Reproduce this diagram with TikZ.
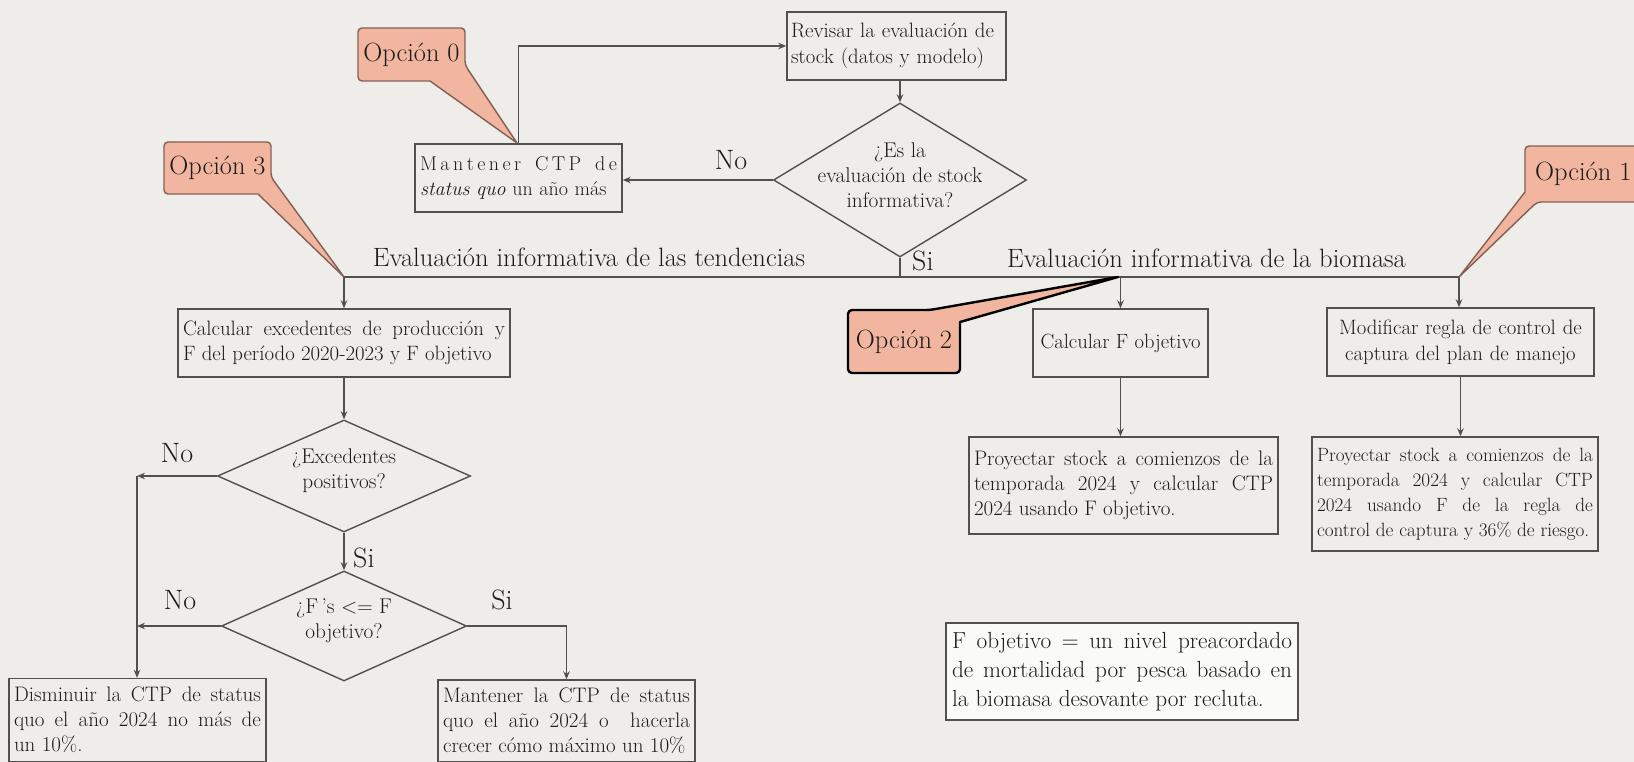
\documentclass[tikz,border=0pt]{standalone}
\usepackage{fontspec}
\usetikzlibrary{shapes.geometric,arrows.meta}
\definecolor{bg}{RGB}{239,237,233}
\definecolor{ln}{RGB}{80,80,80}
\definecolor{tx}{RGB}{28,28,28}
\definecolor{callfill}{RGB}{242,182,160}
\definecolor{calldraw}{RGB}{130,95,85}
\definecolor{notefill}{RGB}{250,250,248}
\begin{document}
\begin{tikzpicture}[x=1pt,y=-1pt,
  box/.style={draw=ln, line width=1.4pt, inner xsep=5pt, inner ysep=0pt, text=tx,
    font=\fontsize{21}{25}\selectfont},
  dia/.style={diamond, draw=ln, line width=1.4pt, inner sep=0pt, text=tx,
    font=\fontsize{21.3}{25}\selectfont},
  arr/.style={draw=ln, line width=1.4pt, -{Stealth[length=8pt,width=6.5pt]}},
  conn/.style={draw=ln, line width=1.4pt},
  lab/.style={font=\fontsize{26.5}{30}\selectfont, text=tx, inner sep=0pt, anchor=base},
  yn/.style={font=\fontsize{28}{30}\selectfont, text=tx, inner sep=0pt, anchor=base},
  opt/.style={fill=callfill, draw=calldraw, line width=1.4pt, line join=round},
  optlab/.style={font=\fontsize{26.4}{30}\selectfont, text=tx, inner sep=0pt}]
\useasboundingbox (0,0) rectangle (1634,762);
\fill[bg] (0,0) rectangle (1634,762);
\clip (0,0) rectangle (1634,762);

% ---- nodes ----
\node[box, minimum width=219pt, minimum height=68pt, text width=211pt, inner xsep=4pt, align=left,
  font=\fontsize{20.8}{26}\selectfont]
  (rev) at (896.5,46) {Revisar la evaluación de\\stock (datos y modelo)};
\node[dia, minimum width=253pt, minimum height=154pt] (d1) at (900,180)
  {\makebox[0pt]{\smash{\parbox[c]{240pt}{\centering ¿Es la\\evaluación de stock\\informativa?}}}};
\node[box, minimum width=207pt, minimum height=68pt, text width=197pt, align=left,
  font=\fontsize{20}{25}\selectfont]
  (m0) at (518.5,178) {\makebox[\linewidth][s]{M\hfil a\hfil n\hfil t\hfil e\hfil n\hfil e\hfil r\hfil\hskip7pt\hfil C\hfil T\hfil P\hfil\hskip7pt\hfil d\hfil e}\\{\itshape status quo} un año más};

\node[box, minimum width=332pt, minimum height=68pt, text width=322pt, align=justify,
  font=\fontsize{20.8}{25}\selectfont]
  (c1) at (344,343) {Calcular excedentes de producción y\linebreak F del período 2020-2023 y F objetivo};
\node[dia, minimum width=253pt, minimum height=112pt] (d2) at (344,476)
  {\makebox[0pt]{\smash{\parbox[c]{200pt}{\centering ¿Excedentes\\positivos?}}}};
\node[dia, minimum width=245pt, minimum height=110pt] (d3) at (344,626)
  {\makebox[0pt]{\smash{\parbox[c]{200pt}{\centering ¿F\,’s <= F\\objetivo?}}}};
\node[box, minimum width=257pt, minimum height=83pt, text width=247pt, align=justify]
  (dism) at (137.5,720) {Disminuir la CTP de status\linebreak quo el año 2024 no más de\linebreak un 10\%.};
\node[box, minimum width=257pt, minimum height=82pt, text width=247pt, align=justify]
  (mant1) at (566.5,721) {Mantener la CTP de status\linebreak quo el año 2024 o \ hacerla\linebreak crecer cómo máximo un 10\%};

\node[box, minimum width=175pt, minimum height=68pt, align=center,
  font=\fontsize{20.6}{25}\selectfont]
  (calcF) at (1120.5,343) {Calcular F objetivo};
\node[box, minimum width=309pt, minimum height=97pt, text width=299pt, align=justify]
  (proy1) at (1123.5,485.5) {Proyectar stock a comienzos de la\linebreak temporada 2024 y calcular CTP\linebreak 2024 usando F objetivo.};
\node[box, minimum width=267pt, minimum height=68pt, text width=257pt, align=center,
  font=\fontsize{20.8}{26}\selectfont]
  (modif) at (1460.5,342) {Modificar regla de control de\\captura del plan de manejo};
\node[box, minimum width=286pt, minimum height=114pt, text width=276pt, align=justify,
  font=\fontsize{19.2}{25}\selectfont]
  (proy2) at (1455,494) {Proyectar stock a comienzos de la\linebreak temporada 2024 y calcular CTP\linebreak 2024 usando F de la regla de\linebreak control de captura y 36\% de riesgo.};
\node[box, fill=notefill, minimum width=352pt, minimum height=97pt, text width=340pt,
  inner xsep=6pt, align=justify, font=\fontsize{23.3}{29}\selectfont]
  (note) at (1122,671.5) {F objetivo = un nivel preacordado\linebreak de mortalidad por pesca basado en\linebreak la biomasa desovante por recluta.};

% ---- connectors ----
\coordinate (hl) at (344,277);
\coordinate (hr) at (1459,277);
\coordinate (j1) at (137,476);
\coordinate (j2) at (137,626);

\draw[arr] (d1.west) -- (d1.west -| m0.east);
\draw[arr] (m0.north) |- (rev.west);
\draw[arr] (rev.south -| d1.north) -- (d1.north);
\draw[conn] (d1.south) -- (d1.south |- hl);
\draw[conn] (hl) -- (hr);
\draw[arr] (hl) -- (c1.north);
\draw[arr] (c1.south) -- (d2.north);
\draw[arr] (d2.west) -- (j1);
\draw[arr] (j1) -- (j1 |- dism.north);
\draw[arr] (d2.south) -- (d3.north);
\draw[arr] (d3.west) -- (j2);
\draw[arr] (d3.east) -| (mant1.north);
\draw[arr] (calcF.north |- hl) -- (calcF.north);
\draw[arr] (calcF.south) -- (calcF.south |- proy1.north);
\draw[arr] (hr) -- (hr |- modif.north);
\draw[arr] (modif.south) -- (modif.south |- proy2.north);

% ---- labels ----
\node[yn] (no1) at (731,170) {No};
\node[yn, anchor=base west] (si1) at (912,271) {Si};
\node[lab] (tend) at (589,267) {Evaluación informativa de las tendencias};
\node[lab] (biom) at (1206.5,268) {Evaluación informativa de la biomasa};
\node[yn] (no2) at (177,462) {No};
\node[yn, anchor=base west] (si2) at (353,567) {Si};
\node[yn] (no3) at (180,609) {No};
\node[yn] (si3) at (502,609) {Si};

% ---- callouts ----
\path[opt] [rounded corners=4pt] (358,28) -- (465,28) -- (465,65) [sharp corners] -- (517,143)
  -- (430,81) [rounded corners=4pt] -- (358,81) -- cycle;
\node[optlab] (o0) at (411.5,54.5) {Opción 0};

\path[opt] [rounded corners=4pt] (164,142) -- (271,142) -- (271,177) [sharp corners] -- (344,277)
  -- (258,194) [rounded corners=4pt] -- (164,194) -- cycle;
\node[optlab] (o3) at (217.5,168) {Opción 3};

\path[opt] [rounded corners=4pt] (1525,192) -- (1525,146) -- (1660,146) -- (1660,202)
  -- (1537,202) [sharp corners] -- (1459,277) -- cycle;
\node[optlab, anchor=west] (o1) at (1535,174) {Opción 1};

\path[opt, draw=black, line width=2.4pt] [rounded corners=4pt] (960,322) -- (960,373)
  -- (848,373) -- (848,310) -- (930,310) [sharp corners] -- (1118,277) -- cycle;
\node[optlab] (o2) at (904,341.5) {Opción 2};
\end{tikzpicture}
\end{document}
